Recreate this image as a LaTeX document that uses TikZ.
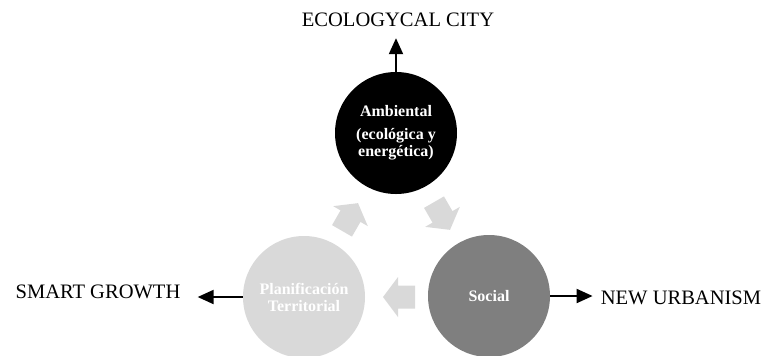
\documentclass[tikz,border=0pt]{standalone}
\usepackage{fontspec}
\setmainfont{Liberation Serif}
\usetikzlibrary{arrows.meta}
\definecolor{midgray}{HTML}{7F7F7F}
\definecolor{palegray}{HTML}{D9D9D9}
\begin{document}
\begin{tikzpicture}[x=0.75pt,y=-0.75pt,
  pillar/.style={circle,minimum size=91.5pt,inner sep=0pt,align=center,
    text=white,font=\fontsize{12}{12.75}\selectfont\bfseries},
  outlabel/.style={inner sep=0pt,font=\fontsize{15.4}{18}\selectfont},
  link/.style={line width=1.5pt,-{Triangle[length=12pt,width=10.5pt]}},
  cyclearrow/.style={fill=palegray,draw=none}]
\useasboundingbox (0,0) rectangle (769,355);

% the three pillars
\node[pillar,fill=black] (amb) at (396,133)
  {Ambiental\\[4.5pt](ecológica y\\energética)};
\node[pillar,fill=midgray] (soc) at (489,296) {Social};
\node[pillar,fill=palegray] (plan) at (304,297) {Planificación\\Territorial};

% cycle arrows between the pillars
\foreach \cx/\cy/\ang in {399/297/180, 350/217/60, 442/216/-60}{
  \begin{scope}[shift={(\cx,\cy)},rotate=\ang]
    \path[cyclearrow] (-16,-11.5) -- (1,-11.5) -- (1,-20) -- (16,0)
      -- (1,20) -- (1,11.5) -- (-16,11.5) -- cycle;
  \end{scope}}

% urban models
\node[outlabel] (eco) at (398,20) {ECOLOGYCAL CITY};
\node[outlabel] (urb) at (681,298) {NEW URBANISM};
\node[outlabel] (smart) at (98,292) {SMART GROWTH};

\draw[link,shorten >=8.25pt] (amb.north) -- (amb.north |- eco.south);
\draw[link,shorten >=6pt] (soc.east) -- (soc.east -| urb.west);
\draw[link,shorten >=12.75pt] (plan.west) -- (plan.west -| smart.east);
\end{tikzpicture}
\end{document}
